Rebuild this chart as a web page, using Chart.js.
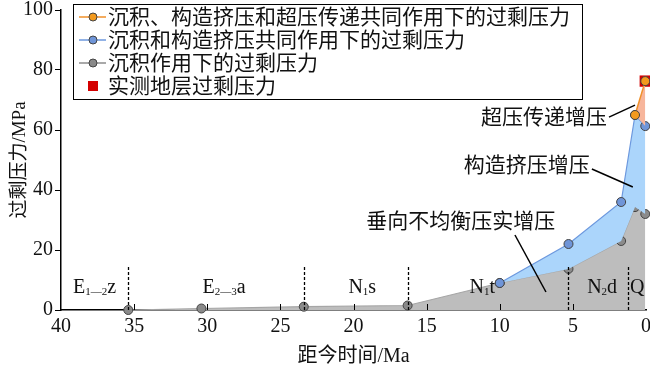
<!DOCTYPE html>
<html>
<head>
<meta charset="utf-8">
<script src="https://cdn.jsdelivr.net/npm/chart.js@4.4.1/dist/chart.umd.min.js"></script>
<style>
  html, body { margin: 0; padding: 0; background: #fff; }
  #wrap { width: 650px; height: 369px; }
</style>
</head>
<body>
<div id="wrap"><canvas id="myChart" width="650" height="369"></canvas></div>
<script>
// ages (Ma) and excess pressure (MPa)
const ageSed = [35.4, 30.4, 23.4, 16.3, 10.0, 5.3, 1.7, 0.75, 0.05];
const pSed = [0, 0.5, 1.1, 1.5, 9.0, 13.7, 23.0, 34.3, 32.0];
const ageTect = [10.0, 5.3, 1.7, 0.75, 0.05];
const pTect = [9.0, 22.0, 36.0, 65.0, 61.3];
const ageAll = [0.75, 0.05];
const pAll = [65.0, 76.3];
const ageMeasured = [0.05];
const pMeasured = [76.3];

const seriesNames = [
  "沉积、构造挤压和超压传递共同作用下的过剩压力",
  "沉积和构造挤压共同作用下的过剩压力",
  "沉积作用下的过剩压力",
  "实测地层过剩压力",
];

// stratigraphic boundaries and labels
const boundaryAges = [35.4, 23.4, 16.3, 5.3, 1.2];
const strata = [
  { age: 37.7, parts: [["E"], ["1—2", 1], ["z"]] },
  { age: 28.85, parts: [["E"], ["2—3", 1], ["a"]] },
  { age: 19.4, parts: [["N"], ["1", 1], ["s"]] },
  { age: 11.2, parts: [["N"], ["1", 1], ["t"]] },
  { age: 3.0, parts: [["N"], ["2", 1], ["d"]] },
  { age: 0.6, parts: [["Q"]] },
];

// annotations: text end point and leader line [x1,y1,x2,y2] in data units
const notes = [
  { text: "超压传递增压", age: 2.67, p: 64, line: [2.53, 64.3, 0.75, 68.3] },
  { text: "构造挤压增压", age: 3.85, p: 48, line: [3.7, 47, 0.9, 41] },
  { text: "垂向不均衡压实增压", age: 6.2, p: 29.3, line: [8.96, 25, 6.84, 6] },
];

const FONT = '"Liberation Serif", "Noto Sans CJK SC", serif';
const toXY = (xs, ys) => xs.map((x, i) => ({ x: x, y: ys[i] }));

const colOrange = "#f0902a", colBlue = "#6c98de", colGray = "#8c8c8c";

const decorPlugin = {
  id: "decor",
  afterDatasetsDraw(chart) {
    const ctx = chart.ctx;
    const xs = chart.scales.x, ys = chart.scales.y;
    ctx.save();
    // inner x ticks
    ctx.strokeStyle = "#000";
    ctx.lineWidth = 1;
    for (let v = 5; v < 40; v += 5) {
      const px = Math.round(xs.getPixelForValue(v)) + 0.5;
      ctx.beginPath();
      ctx.moveTo(px, ys.getPixelForValue(0));
      ctx.lineTo(px, ys.getPixelForValue(0) - 6);
      ctx.stroke();
    }
    // boundary dashed lines
    ctx.setLineDash([3, 2]);
    ctx.lineWidth = 1.3;
    boundaryAges.forEach((a) => {
      const px = Math.round(xs.getPixelForValue(a)) + 0.5;
      ctx.beginPath();
      ctx.moveTo(px, ys.getPixelForValue(0));
      ctx.lineTo(px, ys.getPixelForValue(14.5));
      ctx.stroke();
    });
    ctx.setLineDash([]);
    // strata labels
    ctx.fillStyle = "#111";
    ctx.textBaseline = "alphabetic";
    const base = ys.getPixelForValue(5.7);
    strata.forEach((s) => {
      let w = 0;
      s.parts.forEach((p) => {
        ctx.font = (p[1] ? 11 : 20) + "px " + FONT;
        w += ctx.measureText(p[0]).width;
      });
      let x = xs.getPixelForValue(s.age) - w / 2;
      s.parts.forEach((p) => {
        ctx.font = (p[1] ? 11 : 20) + "px " + FONT;
        ctx.textAlign = "left";
        ctx.fillText(p[0], x, p[1] ? base + 2 : base);
        x += ctx.measureText(p[0]).width;
      });
    });
    // annotations
    ctx.font = "21px " + FONT;
    ctx.textAlign = "right";
    ctx.textBaseline = "middle";
    ctx.lineWidth = 1.5;
    notes.forEach((n) => {
      ctx.fillText(n.text, xs.getPixelForValue(n.age), ys.getPixelForValue(n.p));
      ctx.beginPath();
      ctx.moveTo(xs.getPixelForValue(n.line[0]), ys.getPixelForValue(n.line[1]));
      ctx.lineTo(xs.getPixelForValue(n.line[2]), ys.getPixelForValue(n.line[3]));
      ctx.stroke();
    });
    ctx.restore();
  },
  afterDraw(chart) {
    // legend box
    const ctx = chart.ctx;
    ctx.save();
    ctx.fillStyle = "#fff";
    ctx.fillRect(73.5, 4.5, 509, 95);
    ctx.strokeStyle = "#000";
    ctx.lineWidth = 1;
    ctx.strokeRect(73.5, 4.5, 509, 95);
    const rows = [17, 40, 63, 86];
    const cols = [colOrange, colBlue, colGray];
    const fills = ["#f39a1e", "#6f95d8", "#8a8a8a"];
    ctx.font = "21px " + FONT;
    ctx.textBaseline = "middle";
    ctx.textAlign = "left";
    rows.forEach((y, i) => {
      if (i < 3) {
        ctx.strokeStyle = cols[i];
        ctx.lineWidth = 1.5;
        ctx.beginPath();
        ctx.moveTo(79, y);
        ctx.lineTo(106, y);
        ctx.stroke();
        ctx.beginPath();
        ctx.arc(93, y, 4, 0, Math.PI * 2);
        ctx.fillStyle = fills[i];
        ctx.fill();
        ctx.strokeStyle = "#444";
        ctx.lineWidth = 1;
        ctx.stroke();
      } else {
        ctx.fillStyle = "#d40000";
        ctx.fillRect(88, y - 5, 10, 10);
      }
      ctx.fillStyle = "#111";
      ctx.fillText(seriesNames[i], 108, y + 1);
    });
    ctx.restore();
  },
};

const ctx = document.getElementById("myChart").getContext("2d");
const myChart = new Chart(ctx, {
  type: "line",
  data: {
    datasets: [
      {
        label: seriesNames[2],
        data: toXY(ageSed, pSed),
        borderColor: "#a6a6a6",
        backgroundColor: "#bdbdbd",
        borderWidth: 1.2,
        fill: "origin",
        pointRadius: 4.5,
        pointBackgroundColor: "#8a8a8a",
        pointBorderColor: "#444",
        pointBorderWidth: 1,
        order: 4,
        clip: false,
      },
      {
        label: seriesNames[1],
        data: toXY(ageTect, pTect),
        borderColor: colBlue,
        backgroundColor: "#abd5fb",
        borderWidth: 1.2,
        fill: 0,
        pointRadius: 4.5,
        pointBackgroundColor: "#6f95d8",
        pointBorderColor: "#444",
        pointBorderWidth: 1,
        order: 3,
        clip: false,
      },
      {
        label: seriesNames[3],
        data: toXY(ageMeasured, pMeasured),
        showLine: false,
        pointStyle: "rect",
        pointRadius: 8,
        pointBackgroundColor: "#d40000",
        pointBorderColor: "#d40000",
        pointBorderWidth: 0,
        fill: false,
        order: 2,
        clip: false,
      },
      {
        label: seriesNames[0],
        data: toXY(ageAll, pAll),
        borderColor: colOrange,
        backgroundColor: "#f7b69c",
        borderWidth: 1.5,
        fill: 1,
        pointRadius: 4.5,
        pointBackgroundColor: "#f39a1e",
        pointBorderColor: "#444",
        pointBorderWidth: 1,
        order: 1,
        clip: false,
      },
    ],
  },
  options: {
    responsive: false,
    animation: false,
    layout: { padding: { top: 10, right: 4, left: 0, bottom: 0 } },
    plugins: {
      legend: { display: false },
      tooltip: { enabled: false },
    },
    elements: { line: { tension: 0 } },
    scales: {
      x: {
        type: "linear",
        reverse: true,
        min: 0,
        max: 40,
        afterFit: (s) => {
          s.height = 59;
          s.paddingLeft = 0;
          s.paddingRight = 0;
        },
        grid: { display: false, drawTicks: false },
        border: { display: true, color: "#000", width: 1.5 },
        ticks: {
          stepSize: 5,
          color: "#111",
          font: { family: FONT, size: 20 },
          padding: 5,
          maxRotation: 0,
        },
        title: {
          display: true,
          text: "距今时间/Ma",
          color: "#111",
          font: { family: FONT, size: 20 },
          padding: { top: 0, bottom: 0 },
        },
      },
      y: {
        min: 0,
        max: 100,
        afterFit: (s) => {
          s.width = 61;
          s.paddingTop = 0;
          s.paddingBottom = 0;
        },
        grid: { drawOnChartArea: false, tickLength: 6, color: "#000", lineWidth: 1 },
        border: { display: true, color: "#000", width: 1.5 },
        ticks: {
          stepSize: 20,
          color: "#111",
          font: { family: FONT, size: 20 },
          padding: 2,
        },
        title: {
          display: true,
          text: "过剩压力/MPa",
          color: "#111",
          font: { family: FONT, size: 19 },
          padding: { top: 9, bottom: 0 },
        },
      },
    },
  },
  plugins: [
    decorPlugin,
    {
      // keep the plot area flush to the reference frame
      id: "frame",
      afterLayout(chart) {
        const a = chart.chartArea;
        if (a.right !== 646) {
          chart.scales.x.right = 646;
          a.right = 646;
          chart.scales.x.width = 646 - chart.scales.x.left;
          chart.scales.x.configure();
        }
      },
    },
  ],
});
</script>
</body>
</html>
